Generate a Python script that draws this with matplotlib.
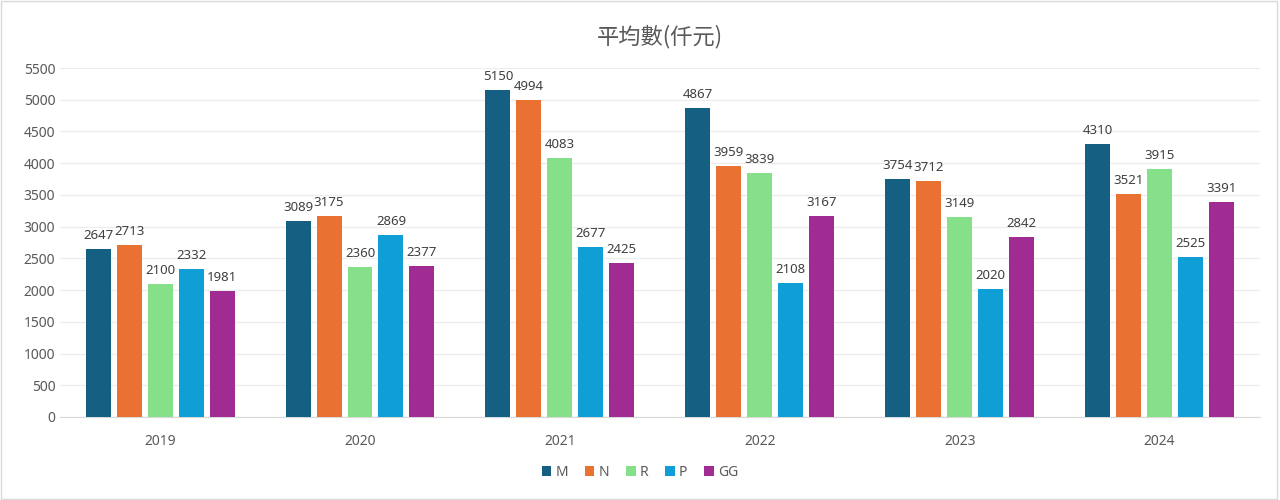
import matplotlib
matplotlib.use("Agg")
import matplotlib.pyplot as plt
import numpy as np

plt.rcParams['font.family'] = ['Noto Sans', 'Noto Sans CJK TC', 'DejaVu Sans']

years = ["2019", "2020", "2021", "2022", "2023", "2024"]
series_names = ["M", "N", "R", "P", "GG"]
M = [2647, 3089, 5150, 4867, 3754, 4310]
N = [2713, 3175, 4994, 3959, 3712, 3521]
R = [2100, 2360, 4083, 3839, 3149, 3915]
P = [2332, 2869, 2677, 2108, 2020, 2525]
GG = [1981, 2377, 2425, 3167, 2842, 3391]
values = [M, N, R, P, GG]
colors = ["#156082", "#E97132", "#86E08A", "#0F9ED5", "#A02B93"]

fig = plt.figure(figsize=(12.8, 5.0), dpi=100)
ax = fig.add_axes([0.047, 0.166, 0.937, 0.698])

x = np.arange(len(years))
step = 0.155
width = 0.125
txt = "#595959"
for i, (name, vals, c) in enumerate(zip(series_names, values, colors)):
    pos = x + (i - 2) * step
    bars = ax.bar(pos, vals, width=width, color=c, label=name, zorder=3)
    for b, v in zip(bars, vals):
        ax.text(b.get_x() + b.get_width() / 2, v + 110, str(v), ha="center",
                va="bottom", fontsize=9.5, color="#404040")

ax.set_xlim(-0.5, 5.5)
ax.set_ylim(0, 5500)
ax.set_yticks(np.arange(0, 5501, 500))
ax.set_xticks(x)
ax.set_xticklabels(years)
ax.tick_params(axis="both", length=0, labelsize=10, labelcolor=txt)
ax.tick_params(axis="x", pad=12)
ax.grid(axis="y", color="#EDEDED", linewidth=0.9, zorder=0)
for s in ["top", "right", "left"]:
    ax.spines[s].set_visible(False)
ax.spines["bottom"].set_color("#D9D9D9")

ax.set_title("平均數(仟元)", fontsize=16, color=txt, pad=18,
             family=['Noto Sans CJK TC', 'DejaVu Sans'])

fig.legend(loc="center", bbox_to_anchor=(0.5, 0.055), ncol=5, frameon=False,
           fontsize=10, handlelength=0.7, handleheight=0.7, handletextpad=0.3,
           columnspacing=1.2, labelcolor=txt)

fig.patches.append(plt.Rectangle((0.001, 0.002), 0.997, 0.996, transform=fig.transFigure,
                                 fill=False, edgecolor="#D9D9D9", linewidth=1))

fig.savefig("out.png", dpi=100, facecolor="white")
